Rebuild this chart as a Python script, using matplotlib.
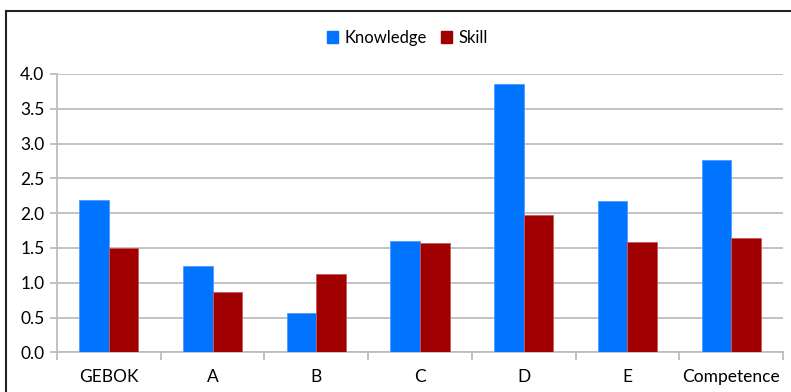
import matplotlib
matplotlib.use("Agg")
import matplotlib.pyplot as plt
import numpy as np
from matplotlib.lines import Line2D
from matplotlib.patches import Patch

categories = ["GEBOK", "A", "B", "C", "D", "E", "Competence"]
knowledge = [2.19, 1.24, 0.57, 1.60, 3.85, 2.17, 2.77]
skill = [1.50, 0.86, 1.13, 1.57, 1.97, 1.585, 1.65]
yticks = [0.0, 0.5, 1.0, 1.5, 2.0, 2.5, 3.0, 3.5, 4.0]

blue = "#0073FF"
red = "#A00000"
grid_col = "#BDBDBD"
font = "Lato"

W, H = 791, 392
fig = plt.figure(figsize=(W / 100, H / 100), dpi=100)
ax = fig.add_axes([57 / W, 1 - 352.3 / H, (783 - 57) / W, (352.3 - 74) / H])

x = np.arange(len(categories))
bw = 0.285
ax.bar(x - bw / 2, knowledge, width=bw, color=blue, edgecolor="#4F9BFF", linewidth=0.6, zorder=3)
ax.bar(x + bw / 2, skill, width=bw, color=red, edgecolor="#C85A5A", linewidth=0.6, zorder=3)

ax.set_xlim(-0.5, len(categories) - 0.5)
ax.set_ylim(0, 4.0)
ax.set_yticks(yticks)
ax.set_yticklabels([f"{v:.1f}" for v in yticks], fontsize=12.5, family=font)
ax.yaxis.grid(True, color=grid_col, linewidth=1.3, zorder=0)
ax.set_axisbelow(True)

# category labels centred, tick marks on category boundaries
ax.set_xticks(x)
ax.set_xticklabels(categories, fontsize=12.5, family=font)
ax.tick_params(axis="x", length=0, pad=12)
ax.set_xticks(np.arange(len(categories) + 1) - 0.5, minor=True)
ax.tick_params(axis="x", which="minor", length=6, color=grid_col, width=1.3)
ax.tick_params(axis="y", length=5, color=grid_col, width=1.3, pad=4)

for s in ["top", "right"]:
    ax.spines[s].set_visible(False)
for s in ["left", "bottom"]:
    ax.spines[s].set_color(grid_col)
    ax.spines[s].set_linewidth(1.3)

handles = [Patch(facecolor=blue, edgecolor=blue), Patch(facecolor=red, edgecolor=red)]
fig.legend(handles, ["Knowledge", "Skill"], loc="center", bbox_to_anchor=(407 / W, 1 - 38 / H),
           ncol=2, frameon=False, prop={"family": font, "size": 12},
           handlelength=0.7, handleheight=0.7, handletextpad=0.35, columnspacing=0.85)

# frame around the chart (left and top edges)
fig.add_artist(Line2D([6.5 / W, 6.5 / W], [0, 1 - 11 / H], transform=fig.transFigure, color="#222222", linewidth=1.5))
fig.add_artist(Line2D([6.5 / W, 1], [1 - 11 / H, 1 - 11 / H], transform=fig.transFigure, color="#222222", linewidth=1.5))

fig.savefig("out.png", dpi=100, facecolor="white")
